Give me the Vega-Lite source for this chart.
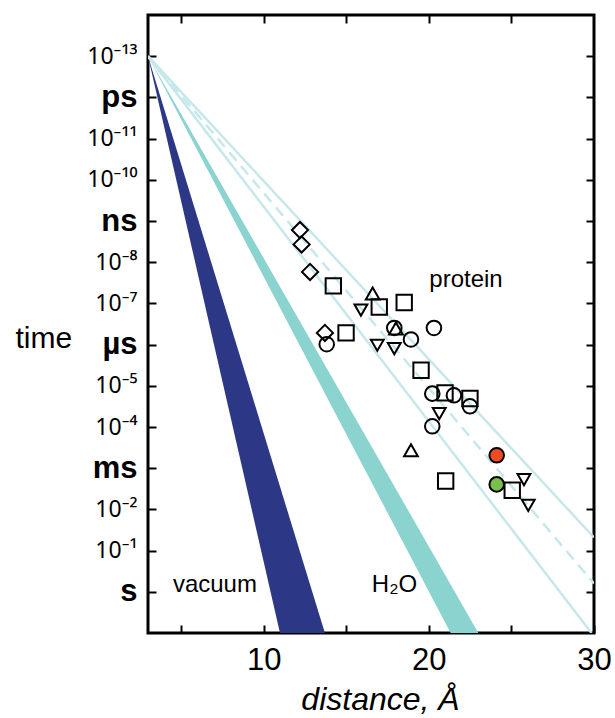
{
  "$schema": "https://vega.github.io/schema/vega-lite/v6.json",
  "width": 446,
  "height": 618,
  "autosize": "none",
  "padding": {"left": 148, "top": 15, "right": 21, "bottom": 85},
  "config": {
    "font": "Liberation Sans",
    "view": {"stroke": "black", "strokeWidth": 3}
  },
  "resolve": {"axis": {"x": "independent", "y": "independent"}},
  "datasets": {
    "bands": [
      {"medium": "vacuum", "t": 1e-13, "lo": 3, "hi": 3},
      {"medium": "vacuum", "t": 10, "lo": 10.99, "hi": 13.71},
      {"medium": "H2O", "t": 1e-13, "lo": 3, "hi": 3},
      {"medium": "H2O", "t": 10, "lo": 21.32, "hi": 23.0}
    ],
    "protein_lines": [
      {"edge": "lower", "d": 3, "t": 1e-13},
      {"edge": "lower", "d": 29.85, "t": 10},
      {"edge": "upper", "d": 3, "t": 1e-13},
      {"edge": "upper", "d": 30, "t": 0.048},
      {"edge": "mean", "d": 3, "t": 1e-13},
      {"edge": "mean", "d": 30, "t": 0.63}
    ],
    "points": [
      {"marker": "diamond", "highlight": "none", "d": 12.20, "t": 1.66e-9},
      {"marker": "diamond", "highlight": "none", "d": 12.30, "t": 3.7e-9},
      {"marker": "diamond", "highlight": "none", "d": 12.81, "t": 1.72e-8},
      {"marker": "diamond", "highlight": "none", "d": 13.71, "t": 5.2e-7},
      {"marker": "square", "highlight": "none", "d": 14.22, "t": 3.76e-8},
      {"marker": "square", "highlight": "none", "d": 17.0, "t": 1.22e-7},
      {"marker": "square", "highlight": "none", "d": 18.51, "t": 9.5e-8},
      {"marker": "square", "highlight": "none", "d": 14.99, "t": 5.2e-7},
      {"marker": "square", "highlight": "none", "d": 19.53, "t": 4.2e-6},
      {"marker": "square", "highlight": "none", "d": 20.98, "t": 1.49e-5},
      {"marker": "square", "highlight": "none", "d": 22.49, "t": 2.04e-5},
      {"marker": "square", "highlight": "none", "d": 21.02, "t": 2.05e-3},
      {"marker": "square", "highlight": "none", "d": 25.05, "t": 3.44e-3},
      {"marker": "circle", "highlight": "none", "d": 13.82, "t": 9.8e-7},
      {"marker": "circle", "highlight": "none", "d": 17.91, "t": 3.94e-7},
      {"marker": "circle", "highlight": "none", "d": 18.92, "t": 7.5e-7},
      {"marker": "circle", "highlight": "none", "d": 20.31, "t": 3.94e-7},
      {"marker": "circle", "highlight": "none", "d": 20.21, "t": 1.55e-5},
      {"marker": "circle", "highlight": "none", "d": 21.52, "t": 1.7e-5},
      {"marker": "circle", "highlight": "none", "d": 22.49, "t": 3.14e-5},
      {"marker": "circle", "highlight": "none", "d": 20.21, "t": 9.6e-5},
      {"marker": "triangle-up", "highlight": "none", "d": 16.6, "t": 5.75e-8},
      {"marker": "triangle-up", "highlight": "none", "d": 18.01, "t": 4.07e-7},
      {"marker": "triangle-up", "highlight": "none", "d": 18.92, "t": 3.68e-4},
      {"marker": "triangle-down", "highlight": "none", "d": 15.89, "t": 1.46e-7},
      {"marker": "triangle-down", "highlight": "none", "d": 16.88, "t": 1.04e-6},
      {"marker": "triangle-down", "highlight": "none", "d": 17.91, "t": 1.25e-6},
      {"marker": "triangle-down", "highlight": "none", "d": 20.63, "t": 4.72e-5},
      {"marker": "triangle-down", "highlight": "none", "d": 25.76, "t": 1.9e-3},
      {"marker": "triangle-down", "highlight": "none", "d": 26.02, "t": 7.98e-3},
      {"marker": "circle", "highlight": "red", "d": 24.11, "t": 4.86e-4},
      {"marker": "circle", "highlight": "green", "d": 24.11, "t": 2.47e-3}
    ],
    "labels": [
      {"label": "vacuum", "d": 7.05, "t": 1.0},
      {"label": "H₂O", "d": 17.92, "t": 1.0},
      {"label": "protein", "d": 22.25, "t": 4.1e-8}
    ]
  },
  "layer": [
    {
      "data": {"name": "bands"},
      "transform": [{"filter": "datum.medium == 'vacuum'"}],
      "mark": {"type": "area", "orient": "horizontal", "color": "#2C3785", "clip": true},
      "encoding": {
        "y": {
          "field": "t", "type": "quantitative",
          "scale": {"type": "log", "domain": [1e-14, 10], "reverse": true, "nice": false},
          "axis": {
            "orient": "left",
            "offset": -8,
            "values": [1e-13, 1e-12, 1e-11, 1e-10, 1e-9, 1e-8, 1e-7, 1e-6, 1e-5, 1e-4, 1e-3, 1e-2, 1e-1, 1],
            "labelExpr": "['10⁻¹³','ps','10⁻¹¹','10⁻¹⁰','ns','10⁻⁸','10⁻⁷','µs','10⁻⁵','10⁻⁴','ms','10⁻²','10⁻¹','s'][round(log(datum.value)/LN10)+13]",
            "labelFontSize": {"condition": {"test": "indexof([-12,-9,-6,-3,0], round(log(datum.value)/LN10)) >= 0", "value": 31}, "value": 23},
            "labelFontWeight": {"condition": {"test": "indexof([-12,-9,-6,-3,0], round(log(datum.value)/LN10)) >= 0", "value": "bold"}, "value": "normal"},
            "labelFont": {"condition": {"test": "indexof([-12,-9,-6,-3,0], round(log(datum.value)/LN10)) >= 0", "value": "Liberation Sans"}, "value": "Noto Sans"},
            "labelColor": "black",
            "labelPadding": 11,
            "labelBaseline": "middle",
            "labelOverlap": false,
            "labelFlush": false,
            "ticks": true,
            "tickSize": 8,
            "tickWidth": 2,
            "tickColor": "black",
            "domain": false,
            "grid": false,
            "title": "time",
            "titleFontSize": 30,
            "titleFontWeight": "normal",
            "titleColor": "black",
            "titleAngle": 0,
            "titleAlign": "left",
            "titleBaseline": "alphabetic",
            "titleX": -141,
            "titleY": 332
          }
        },
        "x": {
          "field": "lo", "type": "quantitative",
          "scale": {"domain": [3, 30], "nice": false, "zero": false},
          "axis": {
            "orient": "bottom",
            "offset": -8,
            "values": [5, 10, 15, 20, 25, 30],
            "labelExpr": "datum.value % 10 == 0 ? datum.value : ''",
            "labelFontSize": 31,
            "labelColor": "black",
            "labelPadding": 12,
            "labelFlush": false,
            "labelOverlap": false,
            "ticks": true,
            "tickSize": 8,
            "tickWidth": 2,
            "tickColor": "black",
            "domain": false,
            "grid": false,
            "title": "distance, Å",
            "titleFontSize": 32,
            "titleFontStyle": "italic",
            "titleFontWeight": "normal",
            "titleColor": "black",
            "titleAlign": "center",
            "titleBaseline": "alphabetic",
            "titleX": 232,
            "titleY": 84
          }
        },
        "x2": {"field": "hi"}
      }
    },
    {
      "data": {"name": "bands"},
      "transform": [{"filter": "datum.medium == 'H2O'"}],
      "mark": {"type": "area", "orient": "horizontal", "color": "#8BD3CF", "clip": true},
      "encoding": {
        "y": {
          "field": "t", "type": "quantitative",
          "scale": {"type": "log", "domain": [1e-14, 10], "reverse": true, "nice": false},
          "axis": {
            "orient": "right",
            "offset": -8,
            "values": [1e-13, 1e-12, 1e-11, 1e-10, 1e-9, 1e-8, 1e-7, 1e-6, 1e-5, 1e-4, 1e-3, 1e-2, 1e-1, 1],
            "labels": false,
            "ticks": true,
            "tickSize": 8,
            "tickWidth": 2,
            "tickColor": "black",
            "domain": false,
            "grid": false,
            "title": null
          }
        },
        "x": {
          "field": "lo", "type": "quantitative",
          "scale": {"domain": [3, 30], "nice": false, "zero": false},
          "axis": {
            "orient": "top",
            "offset": -8,
            "values": [5, 10, 15, 20, 25],
            "labels": false,
            "ticks": true,
            "tickSize": 8,
            "tickWidth": 2,
            "tickColor": "black",
            "domain": false,
            "grid": false,
            "title": null
          }
        },
        "x2": {"field": "hi"}
      }
    },
    {
      "data": {"name": "protein_lines"},
      "transform": [{"filter": "datum.edge != 'mean'"}],
      "mark": {"type": "line", "color": "#C6E8EB", "strokeWidth": 2.5, "clip": true},
      "encoding": {
        "x": {"field": "d", "type": "quantitative", "scale": {"domain": [3, 30], "nice": false, "zero": false}, "axis": null},
        "y": {"field": "t", "type": "quantitative", "scale": {"type": "log", "domain": [1e-14, 10], "reverse": true, "nice": false}, "axis": null},
        "detail": {"field": "edge"}
      }
    },
    {
      "data": {"name": "protein_lines"},
      "transform": [{"filter": "datum.edge == 'mean'"}],
      "mark": {"type": "line", "color": "#C6E8EB", "strokeWidth": 2.5, "strokeDash": [11, 7], "clip": true},
      "encoding": {
        "x": {"field": "d", "type": "quantitative", "scale": {"domain": [3, 30], "nice": false, "zero": false}, "axis": null},
        "y": {"field": "t", "type": "quantitative", "scale": {"type": "log", "domain": [1e-14, 10], "reverse": true, "nice": false}, "axis": null}
      }
    },
    {
      "data": {"name": "points"},
      "mark": {"type": "point", "filled": true, "stroke": "black", "strokeWidth": 2, "opacity": 1, "fillOpacity": 1, "strokeOpacity": 1},
      "encoding": {
        "x": {"field": "d", "type": "quantitative", "scale": {"domain": [3, 30], "nice": false, "zero": false}, "axis": null},
        "y": {"field": "t", "type": "quantitative", "scale": {"type": "log", "domain": [1e-14, 10], "reverse": true, "nice": false}, "axis": null},
        "shape": {
          "field": "marker", "type": "nominal",
          "scale": {"domain": ["diamond", "square", "circle", "triangle-up", "triangle-down"], "range": ["diamond", "square", "circle", "triangle-up", "triangle-down"]},
          "legend": null
        },
        "size": {
          "field": "marker", "type": "nominal",
          "scale": {"domain": ["diamond", "square", "circle", "triangle-up", "triangle-down"], "range": [260, 165, 180, 140, 140]},
          "legend": null
        },
        "fill": {
          "field": "highlight", "type": "nominal",
          "scale": {"domain": ["none", "red", "green"], "range": ["transparent", "#EE4B24", "#78BF4B"]},
          "legend": null
        }
      }
    },
    {
      "data": {"name": "labels"},
      "mark": {"type": "text", "fontSize": 24, "align": "center", "baseline": "alphabetic", "color": "black"},
      "encoding": {
        "x": {"field": "d", "type": "quantitative", "scale": {"domain": [3, 30], "nice": false, "zero": false}, "axis": null},
        "y": {"field": "t", "type": "quantitative", "scale": {"type": "log", "domain": [1e-14, 10], "reverse": true, "nice": false}, "axis": null},
        "text": {"field": "label"}
      }
    }
  ]
}
